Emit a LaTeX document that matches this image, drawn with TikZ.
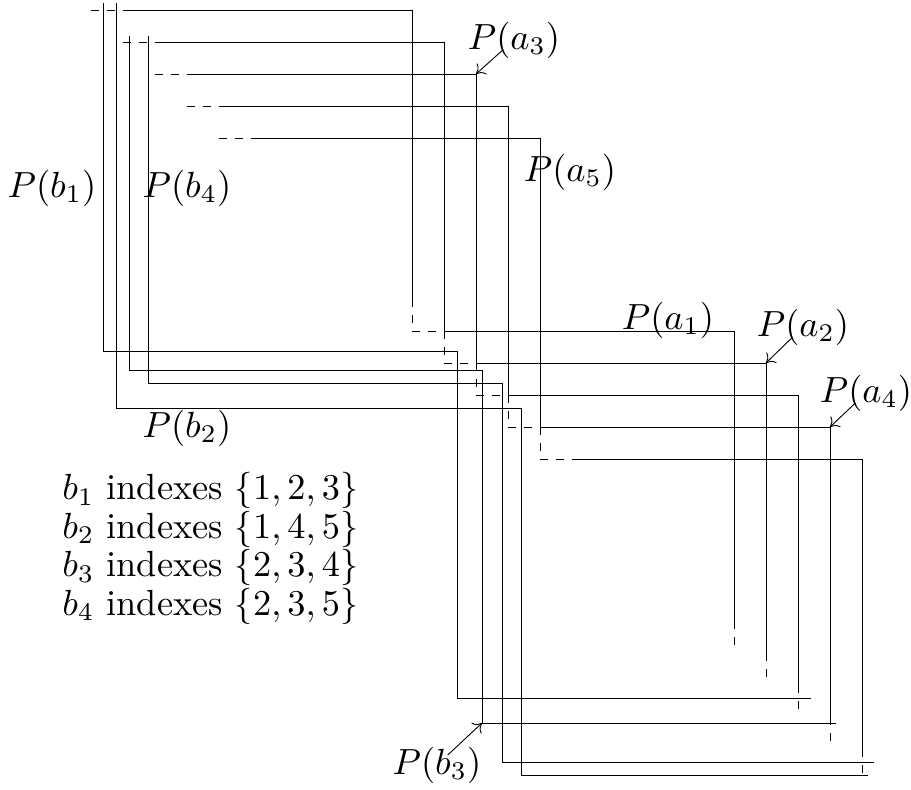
\documentclass[tikz,border=0pt]{standalone}
\usetikzlibrary{arrows.meta}
\begin{document}
\begin{tikzpicture}[x=0.275pt, y=-0.275pt, line width=0.25pt,
      gap/.style={dash pattern=on 2.2pt off 2.2pt},
      lbl/.style={inner sep=0pt},
      pnt/.style={-{To[length=2.2pt,width=4pt]}, shorten <=4pt}]
    \useasboundingbox (0,0) rectangle (911,790);
    % caminos a
    \draw[gap] (91,10)--(123,10); \draw (123,10)--(412,10)--(412,299); \draw[gap] (412,299)--(412,331)--(444,331);
    \draw (444,331)--(734,331)--(734,621); \draw[gap] (734,621)--(734,653);
    \draw[gap] (123,42)--(155,42); \draw (155,42)--(444,42)--(444,331); \draw[gap] (444,331)--(444,363)--(476,363);
    \draw (476,363)--(766,363)--(766,653); \draw[gap] (766,653)--(766,685);
    \draw[gap] (155,74)--(187,74); \draw (187,74)--(476,74)--(476,363); \draw[gap] (476,363)--(476,395)--(508,395);
    \draw (508,395)--(798,395)--(798,685); \draw[gap] (798,685)--(798,717);
    \draw[gap] (187,106)--(219,106); \draw (219,106)--(508,106)--(508,395); \draw[gap] (508,395)--(508,427)--(540,427);
    \draw (540,427)--(830,427)--(830,717); \draw[gap] (830,717)--(830,749);
    \draw[gap] (219,138)--(251,138); \draw (251,138)--(540,138)--(540,427); \draw[gap] (540,427)--(540,459)--(572,459);
    \draw (572,459)--(862,459)--(862,749); \draw[gap] (862,749)--(862,781);
    % caminos b
    \draw (103,3)--(103,351)--(457,351)--(457,698)--(811,698);
    \draw (116,3)--(116,408)--(521,408)--(521,775)--(868,775);
    \draw (129,36)--(129,370)--(482,370)--(482,723)--(836,723);
    \draw (148,36)--(148,383)--(502,383)--(502,762)--(874,762);
    % etiquetas
    \coordinate (ca3) at (476,74); \coordinate (ca2) at (766,363);
    \coordinate (ca4) at (830,427); \coordinate (cb3) at (482,723);
    \node[lbl] (la3) at (514,40) {$P(a_3)$};
    \node[lbl] (la5) at (570,172) {$P(a_5)$};
    \node[lbl] (lb1) at (52,188) {$P(b_1)$};
    \node[lbl] (lb4) at (187,188) {$P(b_4)$};
    \node[lbl] (la1) at (668,320) {$P(a_1)$};
    \node[lbl] (la2) at (803,327) {$P(a_2)$};
    \node[lbl] (la4) at (866,393) {$P(a_4)$};
    \node[lbl] (lb2) at (187,428) {$P(b_2)$};
    \node[lbl] (lb3) at (437,765) {$P(b_3)$};
    \draw[pnt] (la3.center)--(ca3); \draw[pnt] (la2.center)--(ca2);
    \draw[pnt] (la4.center)--(ca4); \draw[pnt] (lb3.center)--(cb3);
    % indices
    \node[lbl, anchor=north west, align=left] (ix) at (62,472)
      {$b_1$ indexes $\{1,2,3\}$\\[-1.4pt] $b_2$ indexes $\{1,4,5\}$\\[-1.4pt] $b_3$ indexes $\{2,3,4\}$\\[-1.4pt] $b_4$ indexes $\{2,3,5\}$};
  \end{tikzpicture}
\end{document}
